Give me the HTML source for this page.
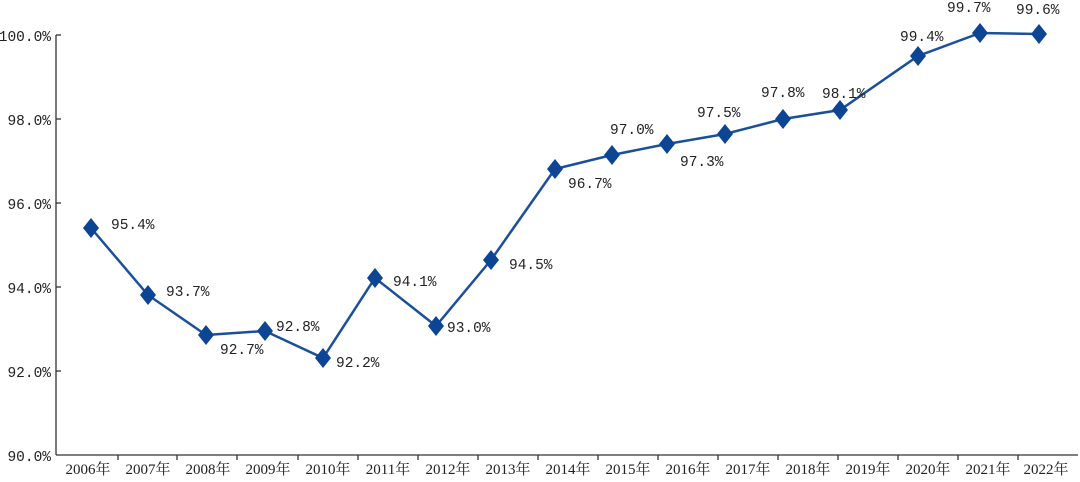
<!DOCTYPE html>
<html><head><meta charset="utf-8"><style>
html,body{margin:0;padding:0;background:#fff;}
svg text{font-family:"Liberation Mono","Noto Serif CJK SC",monospace;font-size:14.5px;fill:#222;}
svg text.yr{font-family:"Liberation Serif","Noto Serif CJK SC",serif;font-size:15px;}
</style></head><body>
<svg width="1080" height="477" xmlns="http://www.w3.org/2000/svg">
<g stroke="#333" stroke-width="1.3">
<line x1="56" y1="35" x2="56" y2="455"/>
<line x1="56" y1="455" x2="1078" y2="455"/>
<line x1="56" y1="35" x2="61" y2="35"/><line x1="56" y1="119" x2="61" y2="119"/>
<line x1="56" y1="203" x2="61" y2="203"/><line x1="56" y1="287" x2="61" y2="287"/>
<line x1="56" y1="371" x2="61" y2="371"/>
<line x1="118" y1="455" x2="118" y2="460"/><line x1="177" y1="455" x2="177" y2="460"/>
<line x1="237" y1="455" x2="237" y2="460"/><line x1="298" y1="455" x2="298" y2="460"/>
<line x1="358" y1="455" x2="358" y2="460"/><line x1="418" y1="455" x2="418" y2="460"/>
<line x1="478" y1="455" x2="478" y2="460"/><line x1="538" y1="455" x2="538" y2="460"/>
<line x1="598" y1="455" x2="598" y2="460"/><line x1="658" y1="455" x2="658" y2="460"/>
<line x1="718" y1="455" x2="718" y2="460"/><line x1="778" y1="455" x2="778" y2="460"/>
<line x1="838" y1="455" x2="838" y2="460"/><line x1="898" y1="455" x2="898" y2="460"/>
<line x1="958" y1="455" x2="958" y2="460"/><line x1="1018" y1="455" x2="1018" y2="460"/>
</g>
<g text-anchor="end">
<text x="51" y="41">100.0%</text><text x="51" y="125">98.0%</text>
<text x="51" y="209">96.0%</text><text x="51" y="293">94.0%</text>
<text x="51" y="377">92.0%</text><text x="51" y="461">90.0%</text>
</g>
<g text-anchor="middle">
<text class="yr" x="88" y="474">2006年</text><text class="yr" x="148" y="474">2007年</text>
<text class="yr" x="208" y="474">2008年</text><text class="yr" x="268" y="474">2009年</text>
<text class="yr" x="328" y="474">2010年</text><text class="yr" x="388" y="474">2011年</text>
<text class="yr" x="448" y="474">2012年</text><text class="yr" x="508" y="474">2013年</text>
<text class="yr" x="568" y="474">2014年</text><text class="yr" x="628" y="474">2015年</text>
<text class="yr" x="688" y="474">2016年</text><text class="yr" x="748" y="474">2017年</text>
<text class="yr" x="808" y="474">2018年</text><text class="yr" x="868" y="474">2019年</text>
<text class="yr" x="928" y="474">2020年</text><text class="yr" x="988" y="474">2021年</text>
<text class="yr" x="1046" y="474">2022年</text>
</g>
<polyline fill="none" stroke="#1a4f9c" stroke-width="2.5" points="91,228 148,295 206,335 265,331 323,358 375,278 436,326 491,260 555,169 612,155 667,144 725,134 783,119 840,110 918,56 980,33 1039,34"/>
<g fill="#0d4595">
<path d="M91,218 l8,10 -8,10 -8,-10z"/><path d="M148,285 l8,10 -8,10 -8,-10z"/>
<path d="M206,325 l8,10 -8,10 -8,-10z"/><path d="M265,321 l8,10 -8,10 -8,-10z"/>
<path d="M323,348 l8,10 -8,10 -8,-10z"/><path d="M375,268 l8,10 -8,10 -8,-10z"/>
<path d="M436,316 l8,10 -8,10 -8,-10z"/><path d="M491,250 l8,10 -8,10 -8,-10z"/>
<path d="M555,159 l8,10 -8,10 -8,-10z"/><path d="M612,145 l8,10 -8,10 -8,-10z"/>
<path d="M667,134 l8,10 -8,10 -8,-10z"/><path d="M725,124 l8,10 -8,10 -8,-10z"/>
<path d="M783,109 l8,10 -8,10 -8,-10z"/><path d="M840,100 l8,10 -8,10 -8,-10z"/>
<path d="M918,46 l8,10 -8,10 -8,-10z"/><path d="M980,23 l8,10 -8,10 -8,-10z"/>
<path d="M1039,24 l8,10 -8,10 -8,-10z"/>
</g>
<g>
<text x="111" y="229">95.4%</text><text x="166" y="296">93.7%</text>
<text x="220" y="354">92.7%</text><text x="276" y="331">92.8%</text>
<text x="336" y="367">92.2%</text><text x="393" y="286">94.1%</text>
<text x="447" y="332">93.0%</text><text x="509" y="269">94.5%</text>
<text x="568" y="188">96.7%</text><text x="610" y="134">97.0%</text>
<text x="680" y="166">97.3%</text><text x="697" y="117">97.5%</text>
<text x="761" y="97">97.8%</text><text x="822" y="98">98.1%</text>
<text x="900" y="41">99.4%</text><text x="947" y="12">99.7%</text>
<text x="1016" y="14">99.6%</text>
</g>
</svg>
</body></html>
